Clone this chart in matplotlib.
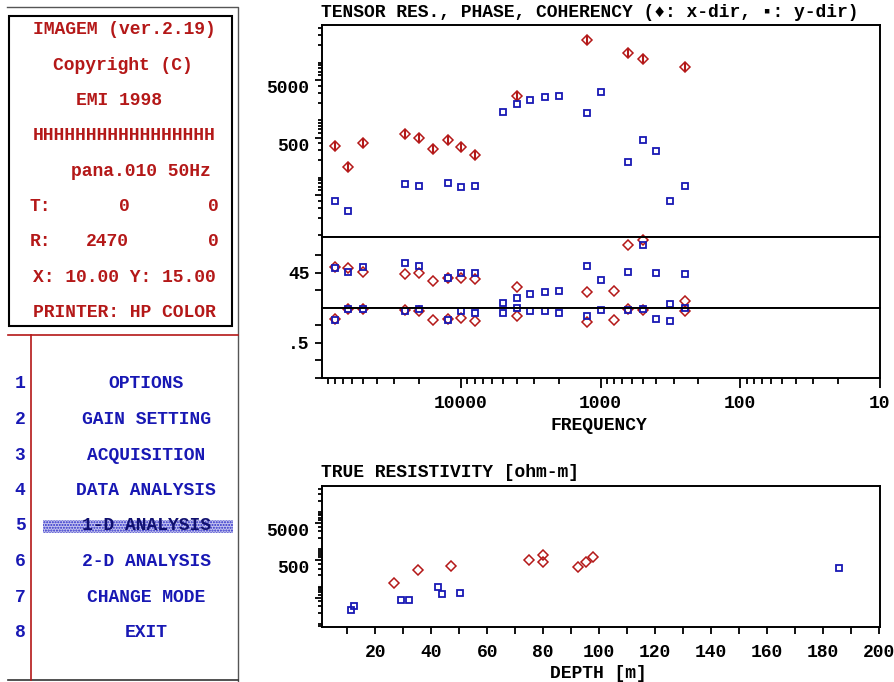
import numpy as np
import matplotlib
matplotlib.use('Agg')
import matplotlib.pyplot as plt
from matplotlib.ticker import FixedLocator, FixedFormatter, LogLocator, NullFormatter, MultipleLocator, FuncFormatter
from matplotlib.patches import Rectangle

nan = np.nan

# sounding frequencies [Hz]
freq = [80000, 64000, 50000, 25000, 20000, 16000, 12500, 10000, 8000, 5000, 4000,
        3200, 2500, 2000, 1250, 1000, 800, 640, 500, 400, 320, 250]

# apparent resistivity (x-dir red, y-dir blue)
rho_x = [356, 155, 396, 569, 484, 315, 453, 338, 248, nan, 2670,
         nan, nan, nan, 24800, nan, nan, 14900, 11500, nan, nan, 8520]
rho_y = [39.8, 26.4, nan, 76.7, 71.8, nan, 79.8, 68, 71.8, 1370, 1890,
         2240, 2500, 2640, 1320, 3130, nan, 185, 453, 295, 39.8, 71.8]

# phase [deg]
phase_x = [52.4, 50.3, 45.2, 42.7, 44.0, 34.6, 38.4, 37.6, 36.4, nan, 27.0,
           nan, nan, nan, 19.9, nan, 21.5, 79.9, 86.2, nan, nan, 9.3]
phase_y = [51.1, 46.0, 52.4, 57.4, 53.6, nan, 38.4, 44.7, 44.7, 6.7, 12.3,
           17.7, 19.9, 21.5, 53.6, 35.5, nan, 46.0, 79.9, 44.0, 5.1, 42.7]

# coherency
coh_x = [0.84, 0.99, 0.99, 0.97, 0.96, 0.83, 0.84, 0.86, 0.82, nan, 0.89,
         nan, nan, nan, 0.80, nan, 0.83, 0.99, 0.97, nan, nan, 0.95]
coh_y = [0.83, 0.99, 0.99, 0.95, 0.99, nan, 0.83, 0.95, 0.93, 0.93, 1.0,
         0.96, 0.95, 0.93, 0.88, 0.97, nan, 0.97, 0.99, 0.84, 0.81, 1.0]

# true resistivity vs depth
depth_x = [26.8, 35.2, 47.1, 74.8, 80.1, 80.1, 92.6, 95.2, 97.7]
true_x = [121, 275, 359, 509, 694, 459, 324, 441, 601]
depth_y = [11.4, 12.4, 29.3, 31.9, 42.3, 43.8, 50.2, 185.8]
true_y = [23.3, 30.3, 45, 45, 98, 62.4, 69.4, 305]

info_lines = ['IMAGEM (ver.2.19)', 'Copyright (C)', 'EMI 1998', 'HHHHHHHHHHHHHHHHH',
              'pana.010 50Hz']
menu = ['OPTIONS', 'GAIN SETTING', 'ACQUISITION', 'DATA ANALYSIS',
        '1-D ANALYSIS', '2-D ANALYSIS', 'CHANGE MODE', 'EXIT']

RED = '#b41818'
BLUE = '#1818b4'
FS = 13

plt.rcParams['font.family'] = ['Liberation Mono', 'DejaVu Sans Mono', 'DejaVu Sans']
plt.rcParams['font.weight'] = 'bold'
plt.rcParams['font.size'] = FS

W, H = 894, 682
fig = plt.figure(figsize=(W / 100, H / 100), dpi=100)


def box(x0, y0, x1, y1):
    return [x0 / W, 1 - y1 / H, (x1 - x0) / W, (y1 - y0) / H]


# screen overlay in pixel coordinates
bg = fig.add_axes([0, 0, 1, 1])
bg.set_xlim(0, W)
bg.set_ylim(H, 0)
bg.axis('off')

bg.plot([7, 238, 238], [7, 7, 682], color='#555555', lw=1)
bg.plot([8, 238], [680, 680], color='#333333', lw=1.2)
bg.add_patch(Rectangle((9, 16), 223, 310, fill=False, ec='black', lw=1.5))
bg.plot([8, 238], [335, 335], color=RED, lw=1.2)
bg.plot([31, 31], [335, 680], color=RED, lw=1.2)

centers = [124, 123, 118.5, 124, 140.5]
for i, (s, cx) in enumerate(zip(info_lines, centers)):
    bg.text(cx, 30 + 35.3 * i, s, color=RED, ha='center', va='center')
y0 = 30 + 35.3 * 5
bg.text(30, y0, 'T:', color=RED, ha='left', va='center')
bg.text(124, y0, '0', color=RED, ha='center', va='center')
bg.text(213, y0, '0', color=RED, ha='center', va='center')
y0 += 35.3
bg.text(30, y0, 'R:', color=RED, ha='left', va='center')
bg.text(107, y0, '2470', color=RED, ha='center', va='center')
bg.text(213, y0, '0', color=RED, ha='center', va='center')
bg.text(124, y0 + 35.3, 'X: 10.00 Y: 15.00', color=RED, ha='center', va='center')
bg.text(124, y0 + 70.6, 'PRINTER: HP COLOR', color=RED, ha='center', va='center')

for i, item in enumerate(menu):
    y = 384 + 35.5 * i
    bg.text(20, y, str(i + 1), color=BLUE, ha='center', va='center')
    if item == '1-D ANALYSIS':
        bg.add_patch(Rectangle((43, y - 6.5), 190, 13, fc='#c4c4ee', ec='#2a2ac8',
                               lw=0, hatch='......'))
        bg.text(146, y, item, color='#101070', ha='center', va='center')
    else:
        bg.text(146, y, item, color=BLUE, ha='center', va='center')

bg.text(321, 12.5, 'TENSOR RES., PHASE, COHERENCY (\u2666: x-dir, \u25aa: y-dir)',
        ha='left', va='center', color='black')
bg.text(599, 425, 'FREQUENCY', ha='center', va='center', color='black')
bg.text(321, 472.5, 'TRUE RESISTIVITY [ohm-m]', ha='left', va='center', color='black')
bg.text(598, 674, 'DEPTH [m]', ha='center', va='center', color='black')

ax_r = fig.add_axes(box(322, 25, 880, 237))
ax_p = fig.add_axes(box(322, 237, 880, 308), sharex=ax_r)
ax_c = fig.add_axes(box(322, 308, 880, 378), sharex=ax_r)
ax_d = fig.add_axes(box(322, 486, 880, 627))

dkw = dict(marker='D', ms=5, mfc='none', mec=RED, mew=1.1, ls='none', clip_on=False)
skw = dict(marker='s', ms=5, mfc='none', mec=BLUE, mew=1.3, ls='none', clip_on=False)

ax_r.plot(freq, rho_x, **dkw)
ax_r.plot(freq, rho_x, marker='|', ms=6, mec=RED, mew=1.5, ls='none')
ax_r.plot(freq, rho_y, **skw)
ax_p.plot(freq, phase_x, **dkw)
ax_p.plot(freq, phase_y, **skw)
ax_c.plot(freq, coh_x, **dkw)
ax_c.plot(freq, coh_y, **skw)

ax_d.plot(depth_x, true_x, **dkw)
ax_d.plot(depth_y, true_y, **skw)

for ax in (ax_r, ax_p, ax_c, ax_d):
    for sp in ax.spines.values():
        sp.set_linewidth(1.4)
    ax.tick_params(which='both', direction='out', width=1.3, pad=4)
    ax.tick_params(which='major', length=5)
    ax.tick_params(which='minor', length=3)

ax_r.set_xscale('log')
ax_r.set_xlim(9.9e4, 10)
ax_r.set_yscale('log')
ax_r.set_ylim(9.3, 45300)
ax_r.yaxis.set_major_locator(FixedLocator([50, 500, 5000]))
ax_r.yaxis.set_major_formatter(FixedFormatter(['', '500', '5000']))
ax_r.yaxis.set_minor_locator(LogLocator(subs=np.arange(1, 10), numticks=20))
ax_r.yaxis.set_minor_formatter(NullFormatter())

ax_p.set_ylim(0, 90)
ax_p.yaxis.set_major_locator(FixedLocator([22.5, 45, 67.5]))
ax_p.yaxis.set_major_formatter(FixedFormatter(['', '45', '']))

ax_c.set_ylim(0, 1)
ax_c.yaxis.set_major_locator(FixedLocator([0, 0.25, 0.5, 0.75]))
ax_c.yaxis.set_major_formatter(FixedFormatter(['', '', '.5', '']))

for ax in (ax_r, ax_p):
    ax.tick_params(axis='x', which='both', bottom=False, labelbottom=False)

ax_c.xaxis.set_major_locator(LogLocator(numticks=10))
ax_c.xaxis.set_major_formatter(FuncFormatter(lambda v, p: '%d' % round(v)))
ax_c.xaxis.set_minor_locator(LogLocator(subs=np.arange(2, 10), numticks=20))
ax_c.xaxis.set_minor_formatter(NullFormatter())
ax_c.tick_params(axis='x', which='major', length=7, pad=5)
ax_c.tick_params(axis='x', which='minor', length=4)

ax_d.set_xlim(1, 200.3)
ax_d.xaxis.set_major_locator(MultipleLocator(20))
ax_d.xaxis.set_minor_locator(MultipleLocator(10))
ax_d.xaxis.set_major_formatter(FuncFormatter(lambda v, p: '' if v == 0 else '%d' % v))
ax_d.tick_params(axis='x', which='both', length=5, pad=7)
ax_d.set_yscale('log')
ax_d.set_ylim(8.3, 49000)
ax_d.yaxis.set_major_locator(FixedLocator([50, 500, 5000]))
ax_d.yaxis.set_major_formatter(FixedFormatter(['', '500', '5000']))
ax_d.yaxis.set_minor_locator(LogLocator(subs=np.arange(1, 10), numticks=20))
ax_d.yaxis.set_minor_formatter(NullFormatter())

# resistivity labels sit a little below their ticks on the original screen
for ax in (ax_r, ax_d):
    for lbl in ax.get_yticklabels():
        lbl.set_va('top')
        lbl.set_y(lbl.get_position()[1])

fig.savefig('out.png', dpi=100)
